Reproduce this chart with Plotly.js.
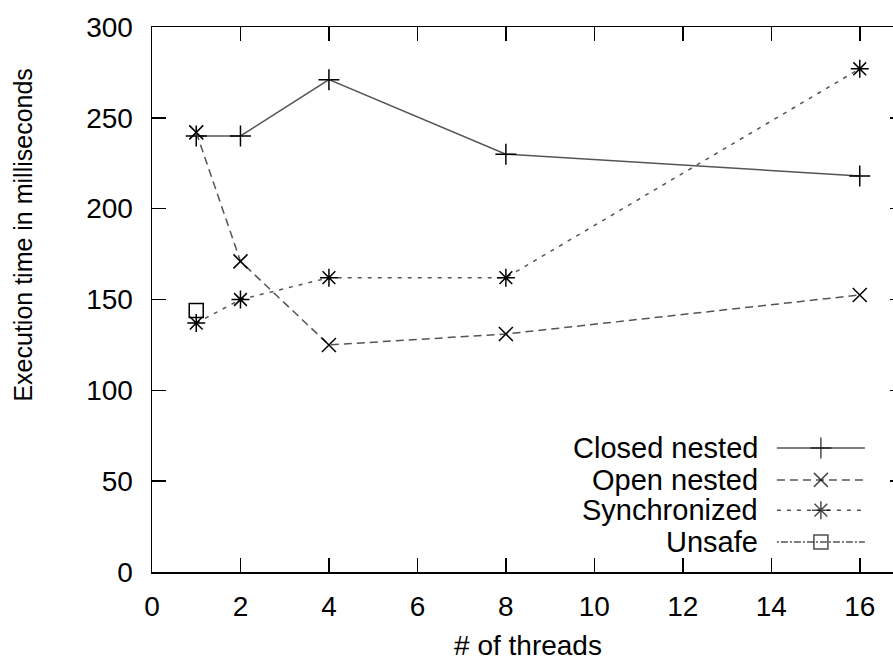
<!DOCTYPE html>
<html>
<head>
<meta charset="utf-8">
<script src="https://cdn.plot.ly/plotly-3.0.1.min.js"></script>
<style>
html, body { margin: 0; padding: 0; overflow: hidden; background: #fff; width: 893px; height: 661px; }
#chart { width: 910px; height: 661px; }
</style>
</head>
<body>
<div id="chart"></div>
<script>
// ---- data ----
const threads = [1, 2, 4, 8, 16];
const closedNested = [240, 240, 271, 230, 218];
const openNested = [242, 171, 125, 131, 152.5];
const synchronizedTimes = [137, 150, 162, 162, 277];
const unsafeThreads = [1];
const unsafeTimes = [144];
const seriesNames = ['Closed nested', 'Open nested', 'Synchronized', 'Unsafe'];
const xTickVals = [0, 2, 4, 6, 8, 10, 12, 14, 16];
const yTickVals = [0, 50, 100, 150, 200, 250, 300];
const xTitle = '# of threads';
const yTitle = 'Execution time in milliseconds';

// ---- styles ----
const FONT = 'Liberation Sans, Arial, Helvetica, sans-serif';
const styles = [
  { dash: 'solid', symbol: 'cross-thin-open', size: 15 },
  { dash: '8px,5px', symbol: 'x-thin-open', size: 14 },
  { dash: '4px,6px', symbol: 'asterisk-open', size: 15 },
  { dash: '2px,2px,7px,2px', symbol: 'square-open', size: 14 }
];
const seriesX = [threads, threads, threads, unsafeThreads];
const seriesY = [closedNested, openNested, synchronizedTimes, unsafeTimes];

const traces = [];
seriesNames.forEach((name, i) => {
  traces.push({
    type: 'scatter', mode: 'lines+markers', name: name,
    x: seriesX[i], y: seriesY[i], showlegend: false,
    line: { color: '#555', width: 1.5, dash: styles[i].dash },
    marker: { symbol: styles[i].symbol, size: styles[i].size, color: '#000', line: { color: '#000', width: 1.5 } },
    cliponaxis: false
  });
});

// custom gnuplot-style key (text left of sample), drawn on an overlay axis pair with range [0,1]
const keyX0 = 0.831, keyX1 = 0.948;
const keyRows = [0.2275, 0.169, 0.1135, 0.055];
const annotations = [];
seriesNames.forEach((name, i) => {
  const yk = keyRows[i];
  traces.push({
    type: 'scatter', mode: 'lines+markers', xaxis: 'x2', yaxis: 'y2', showlegend: false, hoverinfo: 'skip',
    x: [keyX0, (keyX0 + keyX1) / 2, keyX1], y: [yk, yk, yk],
    line: { color: '#555', width: 1.5, dash: styles[i].dash },
    marker: { symbol: styles[i].symbol, size: [0, styles[i].size, 0], color: '#000', line: { color: '#000', width: 1.5 } },
    cliponaxis: false
  });
  annotations.push({
    xref: 'x2', yref: 'y2', x: 0.809, y: yk, text: name, showarrow: false,
    xanchor: 'right', yanchor: 'middle', font: { family: FONT, size: 29, color: '#000' }
  });
});

annotations.push({
  xref: 'paper', yref: 'paper', x: -0.171, y: 0.618, text: yTitle, showarrow: false,
  textangle: -90, xanchor: 'center', yanchor: 'middle', font: { family: FONT, size: 25, color: '#000' }
});

const axisCommon = {
  showgrid: false, zeroline: false, showline: true, linecolor: '#000', linewidth: 1.5,
  mirror: 'ticks', ticks: 'inside', ticklen: 14, tickwidth: 1.5, tickcolor: '#000',
  tickfont: { family: FONT, size: 28, color: '#000' }
};

const layout = {
  width: 910, height: 661,
  margin: { l: 152, r: 6, t: 27, b: 89 },
  paper_bgcolor: '#fff', plot_bgcolor: '#fff',
  showlegend: false,
  xaxis: Object.assign({}, axisCommon, {
    range: [0, 17], tickvals: xTickVals, ticktext: xTickVals.map(String), ticklabelstandoff: 9,
    title: { text: xTitle, font: { family: FONT, size: 28, color: '#000' }, standoff: 16 }
  }),
  yaxis: Object.assign({}, axisCommon, {
    range: [0, 300], tickvals: yTickVals, ticktext: yTickVals.map(String), ticklabelstandoff: 12
  }),
  xaxis2: { overlaying: 'x', anchor: 'y2', range: [0, 1], visible: false, fixedrange: true },
  yaxis2: { overlaying: 'y', anchor: 'x2', range: [0, 1], visible: false, fixedrange: true },
  annotations: annotations
};

Plotly.newPlot('chart', traces, layout, { displayModeBar: false, staticPlot: true });
</script>
</body>
</html>
